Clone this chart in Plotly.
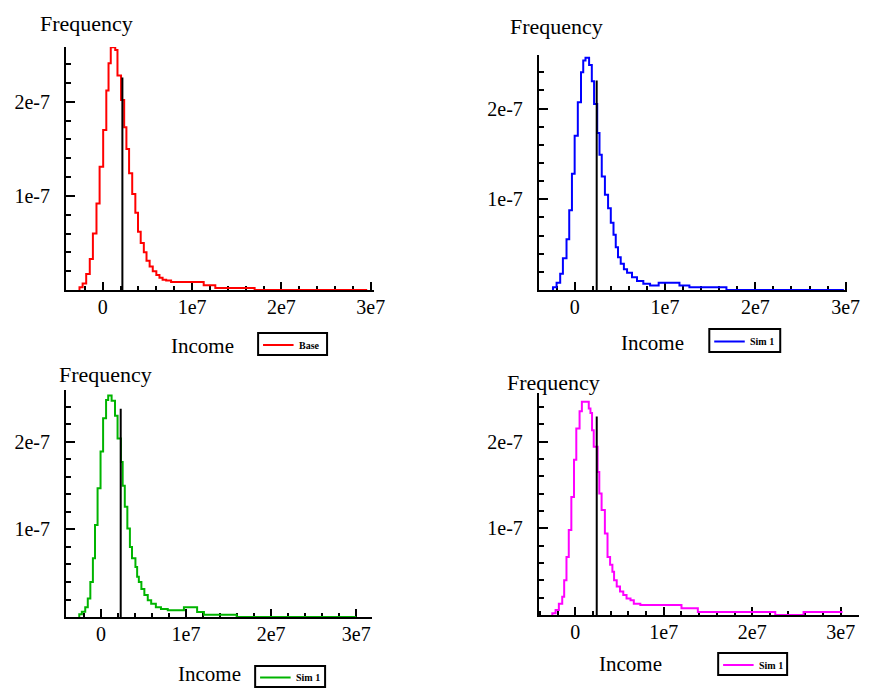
import plotly.graph_objects as go

W, H = 875, 688

# ---------------- data (income in millions, frequency in 1e-7) ----------------
series_names = ["Base", "Sim 1", "Sim 1", "Sim 1"]
series_colors = ["#FF0000", "#0000FF", "#00B400", "#FF00FF"]

base_edges = [-2.6, -2.25, -1.85, -1.45, -1.1, -0.7, -0.35, 0.05, 0.4, 0.65, 0.9, 1.4, 1.65,
              2.05, 2.4, 2.65, 2.95, 3.3, 3.65, 3.95, 4.25, 4.6, 4.9, 5.25, 5.6, 6.0, 6.35,
              6.7, 7.1, 7.65, 11.3, 12.6, 17.0, 29.6]
base_freq = [0.03, 0.07, 0.17, 0.33, 0.60, 0.92, 1.31, 1.70, 2.12, 2.41, 2.58, 2.55, 2.28,
             2.02, 1.73, 1.50, 1.24, 1.02, 0.82, 0.62, 0.50, 0.40, 0.31, 0.25, 0.20, 0.16,
             0.13, 0.11, 0.10, 0.085, 0.05, 0.02, 0.0]

sim_a_edges = [-2.4, -2.0, -1.6, -1.3, -0.9, -0.6, -0.3, 0.0, 0.35, 0.7, 0.95, 1.2, 1.6, 1.9,
               2.15, 2.5, 2.75, 3.0, 3.35, 3.7, 4.0, 4.3, 4.55, 4.8, 5.1, 5.45, 5.8, 6.35,
               6.9, 7.6, 8.35, 9.3, 11.6, 12.7, 16.8, 29.8]
sim_a_freq = [0.03, 0.08, 0.18, 0.35, 0.56, 0.88, 1.28, 1.70, 2.07, 2.40, 2.53, 2.56, 2.48,
              2.30, 2.05, 1.73, 1.49, 1.25, 1.05, 0.90, 0.74, 0.61, 0.47, 0.36, 0.29, 0.23,
              0.19, 0.14, 0.10, 0.07, 0.05, 0.08, 0.05, 0.03, 0.0]

sim_b_edges = [-2.55, -2.25, -1.85, -1.55, -1.25, -0.95, -0.7, -0.4, -0.05, 0.25, 0.6, 0.85,
               1.25, 1.65, 1.95, 2.35, 2.55, 2.8, 3.1, 3.4, 3.65, 4.05, 4.25, 4.45, 4.75,
               5.1, 5.5, 5.9, 6.45, 7.05, 7.85, 9.75, 11.3, 12.1, 15.95, 30.0]
sim_b_freq = [0.03, 0.06, 0.11, 0.21, 0.40, 0.67, 1.05, 1.47, 1.89, 2.27, 2.48, 2.53, 2.47,
              2.30, 2.04, 1.77, 1.50, 1.26, 1.01, 0.80, 0.67, 0.57, 0.46, 0.40, 0.32, 0.25,
              0.19, 0.15, 0.11, 0.09, 0.076, 0.11, 0.057, 0.027, 0.0]

sim_c_edges = [-2.60, -2.23, -1.86, -1.48, -1.26, -1.00, -0.74, -0.45, -0.15, 0.11, 0.48,
               0.74, 1.52, 1.71, 1.89, 2.08, 2.52, 2.71, 2.97, 3.34, 3.64, 3.93, 4.19, 4.38,
               4.68, 5.05, 5.42, 5.79, 6.24, 6.61, 7.35, 12.0, 13.85, 22.6, 25.8, 30.2]
sim_c_freq = [0.02, 0.058, 0.13, 0.21, 0.40, 0.67, 0.98, 1.36, 1.79, 2.15, 2.35, 2.46, 2.38,
              2.33, 2.13, 1.94, 1.65, 1.40, 1.21, 0.94, 0.67, 0.58, 0.50, 0.40, 0.33, 0.27,
              0.23, 0.19, 0.17, 0.13, 0.115, 0.077, 0.035, 0.0, 0.035]

all_edges = [base_edges, sim_a_edges, sim_b_edges, sim_c_edges]
all_freq = [base_freq, sim_a_freq, sim_b_freq, sim_c_freq]

mean_income = [2.2, 2.44, 2.32, 2.42]          # millions
mean_marker_height = [2.26, 2.31, 2.38, 2.29]  # 1e-7

x_tick_vals = [0, 1e7, 2e7, 3e7]
x_tick_text = ["0", "1e7", "2e7", "3e7"]
y_tick_vals = [1e-7, 2e-7]
y_tick_text = ["1e-7", "2e-7"]

# ---------------- layout geometry (pixels) ----------------
boxes = [(67, 380, 47, 290), (547, 860, 55, 290), (67, 378, 390, 617), (547, 872, 393, 615)]
x_ranges = [(-4.11e6, 30.4e6), (-3.96e6, 30.17e6), (-4.11e6, 31.9e6), (-4.12e6, 32.07e6)]
y_ranges = [(0, 2.583e-7), (0, 2.59e-7), (0, 2.594e-7), (0, 2.56e-7)]
freq_label_pos = [(88, 24), (565, 27), (107, 374), (562, 382)]
income_label_pos = [(206, 346), (662, 343), (213, 674), (640, 664)]
# legend box: left, top, right, bottom
legend_boxes = [(262, 333, 332, 355), (720, 329, 792, 352), (259, 666, 330, 687), (729, 653, 799, 675)]

FONT = "Liberation Serif, DejaVu Serif, serif"

fig = go.Figure()


def px_x(x):
    return x / W


def px_y(y):
    return 1 - y / H


layout = dict(
    # initial size leaves room for the default page margin; post_script fits it to the window
    width=W - 16, height=H - 16, margin=dict(l=0, r=0, t=0, b=0),
    paper_bgcolor="white", plot_bgcolor="white",
    font=dict(family=FONT, size=20, color="black"),
    annotations=[], shapes=[], showlegend=False, hovermode=False,
)

for i in range(4):
    n = i + 1
    xa = "x" if n == 1 else f"x{n}"
    ya = "y" if n == 1 else f"y{n}"
    edges = [e * 1e6 for e in all_edges[i]]
    freq = [f * 1e-7 for f in all_freq[i]]
    xs = [edges[0]] + edges
    ys = [0] + freq + [freq[-1]]
    fig.add_trace(go.Scatter(
        x=xs, y=ys, mode="lines", line=dict(shape="hv", color=series_colors[i], width=2),
        name=series_names[i], xaxis=xa, yaxis=ya,
    ))
    m = mean_income[i] * 1e6
    fig.add_trace(go.Scatter(
        x=[m, m], y=[0, mean_marker_height[i] * 1e-7], mode="lines",
        line=dict(color="black", width=2), xaxis=xa, yaxis=ya, name="mean",
    ))

    l, r, t, b = boxes[i]
    xkey = "xaxis" if n == 1 else f"xaxis{n}"
    ykey = "yaxis" if n == 1 else f"yaxis{n}"
    layout[xkey] = dict(
        domain=[px_x(l), px_x(r)], range=list(x_ranges[i]), anchor=ya,
        showline=True, linewidth=2, linecolor="black", showgrid=False, zeroline=False,
        ticks="inside", ticklen=8, tickwidth=2, tickcolor="black",
        tickmode="array", tickvals=x_tick_vals, ticktext=x_tick_text,
        ticklabelstandoff=-2, layer="below traces",
        minor=dict(tickmode="linear", tick0=0, dtick=2e6, ticks="inside", ticklen=4,
                   tickwidth=2, tickcolor="black", showgrid=False),
        tickfont=dict(family=FONT, size=20),
    )
    layout[ykey] = dict(
        domain=[px_y(b), px_y(t)], range=list(y_ranges[i]), anchor=xa,
        showline=True, linewidth=2, linecolor="black", showgrid=False, zeroline=False,
        ticks="inside", ticklen=9, tickwidth=2, tickcolor="black",
        tickmode="array", tickvals=y_tick_vals, ticktext=y_tick_text,
        ticklabelstandoff=10, layer="below traces",
        minor=dict(tickmode="linear", tick0=0, dtick=0.2e-7, ticks="inside", ticklen=5,
                   tickwidth=2, tickcolor="black", showgrid=False),
        tickfont=dict(family=FONT, size=20),
    )
    fx, fy = freq_label_pos[i]
    layout["annotations"].append(dict(
        text="Frequency", x=px_x(fx), y=px_y(fy), xref="paper", yref="paper",
        showarrow=False, xanchor="center", yanchor="middle",
        font=dict(family=FONT, size=22, color="black")))
    ix, iy = income_label_pos[i]
    layout["annotations"].append(dict(
        text="Income", x=px_x(ix), y=px_y(iy), xref="paper", yref="paper",
        showarrow=False, xanchor="center", yanchor="middle",
        font=dict(family=FONT, size=21, color="black")))

    # hand-drawn legend box
    bl, bt, br, bb = legend_boxes[i]
    layout["shapes"].append(dict(
        type="rect", xref="paper", yref="paper",
        x0=px_x(bl), x1=px_x(br), y0=px_y(bb), y1=px_y(bt),
        line=dict(color="black", width=2), fillcolor="white"))
    cy = (bt + bb) / 2 + 1
    layout["shapes"].append(dict(
        type="line", xref="paper", yref="paper",
        x0=px_x(bl + 5), x1=px_x(bl + 36), y0=px_y(cy), y1=px_y(cy),
        line=dict(color=series_colors[i], width=2)))
    layout["annotations"].append(dict(
        text="<b>%s</b>" % series_names[i], x=px_x(bl + 39), y=px_y(cy), xref="paper",
        yref="paper", showarrow=False, xanchor="left", yanchor="middle",
        font=dict(family=FONT, size=10, color="black")))

fig.update_layout(**layout)

post = (
    "document.body.style.margin='0';"
    "document.documentElement.style.overflow='hidden';"
    "document.body.style.overflow='hidden';"
    "var gd=document.getElementById('{plot_id}');"
    "var w=window.innerWidth||%d, h=window.innerHeight||%d;"
    "gd.style.width=w+'px';gd.style.height=h+'px';"
    "return Plotly.relayout(gd,{width:w,height:h});" % (W, H)
)
fig.write_html("out.html", config={"displayModeBar": False}, post_script=post)
